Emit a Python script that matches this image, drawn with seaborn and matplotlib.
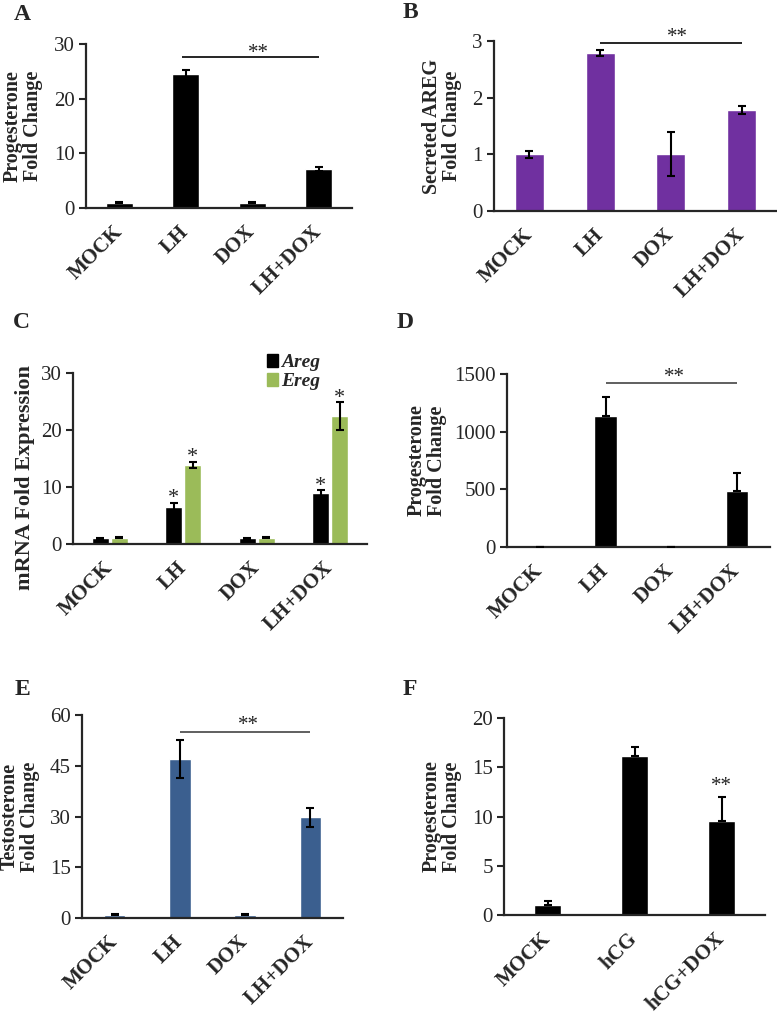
import matplotlib
matplotlib.use("Agg")
import matplotlib.pyplot as plt
import seaborn as sns
import pandas as pd
from matplotlib.patches import Patch

# ---------------- data ----------------
groups = ["MOCK", "LH", "DOX", "LH+DOX"]
a_vals = [1.0, 24.6, 1.0, 7.2]
a_err = [0.12, 0.6, 0.12, 0.35]
b_vals = [1.0, 2.79, 1.0, 1.78]
b_err = [0.06, 0.06, 0.39, 0.07]
c_areg = [1.0, 6.55, 1.0, 8.9]
c_areg_err = [0.1, 0.7, 0.1, 0.6]
c_ereg = [1.1, 13.85, 1.1, 22.4]
c_ereg_err = [0.12, 0.6, 0.1, 2.45]
c_series = ["Areg", "Ereg"]
d_vals = [1.0, 1136, 1.0, 485]
d_err = [0, 162, 0, 154]
e_vals = [1.0, 47.0, 1.0, 29.8]
e_err = [0.1, 5.6, 0.1, 2.8]
f_groups = ["MOCK", "hCG", "hCG+DOX"]
f_vals = [1.0, 16.1, 9.5]
f_err = [0.45, 1.0, 2.5]

PURPLE = "#7030A0"
GREEN = "#9BBB59"
BLUE = "#3B5F8F"

sns.set_style("ticks")
plt.rcParams["font.family"] = ["Liberation Serif", "DejaVu Serif"]
plt.rcParams["axes.linewidth"] = 1.6

W, H = 777, 1014
fig = plt.figure(figsize=(W / 100, H / 100), dpi=100)


def make_ax(l, r, t, b):
    return fig.add_axes([l / W, 1 - b / H, (r - l) / W, (b - t) / H])


def style(ax, n, ymax, yticks, ylabel, lx, ly=0.5, lsize=14.5):
    ax.set_xlim(-0.5, n - 0.5)
    ax.set_ylim(0, ymax)
    ax.set_yticks(yticks)
    ax.spines["top"].set_visible(False)
    ax.spines["right"].set_visible(False)
    ax.tick_params(axis="y", direction="out", length=5, width=1.5, labelsize=15, pad=3)
    ax.tick_params(axis="x", length=0, pad=15)
    for lbl in ax.get_xticklabels():
        lbl.set_rotation(45)
        lbl.set_ha("right")
        lbl.set_va("center")
        lbl.set_rotation_mode("anchor")
        lbl.set_fontweight("bold")
        lbl.set_fontsize(15)
    ax.set_xlabel("")
    ax.set_ylabel(ylabel, fontsize=lsize, fontweight="bold", linespacing=1.0)
    ax.yaxis.set_label_coords(lx, ly)


def add_err(ax, container, vals, err, one_sided=False):
    xs = [p.get_x() + p.get_width() / 2 for p in container]
    if one_sided:
        yerr = [[0] * len(err), err]
    else:
        yerr = err
    ax.errorbar(xs, vals, yerr=yerr, fmt="none", ecolor="black", elinewidth=1.5,
                capsize=3, capthick=1.5, zorder=5)
    return xs


def sig(ax, x0, x1, y, ytext, xtext, color="black"):
    ax.plot([x0, x1], [y, y], color=color, lw=1.2, solid_capstyle="butt")
    ax.text(xtext, ytext, "**", ha="center", va="bottom", fontsize=15, color="#222222")


# ---------------- A ----------------
ax = make_ax(86, 352, 44, 208)
sns.barplot(x=groups, y=a_vals, order=groups, color="black", width=0.41,
            errorbar=None, saturation=1, ax=ax)
add_err(ax, ax.containers[0], a_vals, a_err)
sig(ax, 0.95, 3.0, 27.6, 26.5, 2.1)
style(ax, 4, 30, [0, 10, 20, 30], "Progesterone\nFold Change", -0.162)

# ---------------- B ----------------
ax = make_ax(494, 777, 41, 211)
sns.barplot(x=groups, y=b_vals, order=groups, color=PURPLE, width=0.41,
            errorbar=None, saturation=1, ax=ax)
add_err(ax, ax.containers[0], b_vals, b_err)
sig(ax, 1.0, 3.0, 2.96, 2.9, 2.1)
style(ax, 4, 3, [0, 1, 2, 3], "Secreted AREG\nFold Change", -0.113)

# ---------------- C ----------------
ax = make_ax(73, 367, 373, 544)
df_c = pd.DataFrame({
    "group": groups * 2,
    "series": [c_series[0]] * 4 + [c_series[1]] * 4,
    "value": c_areg + c_ereg,
})
sns.barplot(data=df_c, x="group", y="value", hue="series", order=groups,
            hue_order=c_series, palette=["black", GREEN], width=0.52, gap=0.1,
            errorbar=None, saturation=1, legend=False, ax=ax)
xa = add_err(ax, ax.containers[0], c_areg, c_areg_err)
xe = add_err(ax, ax.containers[1], c_ereg, c_ereg_err)
for i in (1, 3):
    ax.text(xa[i], c_areg[i] + c_areg_err[i] - 1.0, "*", ha="center", va="bottom", fontsize=16)
    ax.text(xe[i], c_ereg[i] + c_ereg_err[i] - 1.0, "*", ha="center", va="bottom", fontsize=16)
ax.legend(handles=[Patch(color="black"), Patch(color=GREEN)], labels=c_series,
          loc="upper left", bbox_to_anchor=(0.66, 1.11), frameon=False,
          prop={"weight": "bold", "style": "italic", "size": 14},
          handlelength=0.55, handleheight=0.6, handletextpad=0.15,
          labelspacing=0.1, borderpad=0, borderaxespad=0)
style(ax, 4, 30, [0, 10, 20, 30], "mRNA Fold Expression", -0.129, 0.39, lsize=16)

# ---------------- D ----------------
ax = make_ax(507, 770, 374, 547)
sns.barplot(x=groups, y=d_vals, order=groups, color="black", width=0.34,
            errorbar=None, saturation=1, ax=ax)
add_err(ax, ax.containers[0], d_vals, d_err, one_sided=True)
sig(ax, 1.0, 3.0, 1422, 1390, 2.05, color="#444444")
style(ax, 4, 1500, [0, 500, 1000, 1500], "Progesterone\nFold Change", -0.228)

# ---------------- E ----------------
ax = make_ax(82, 343, 715, 918)
sns.barplot(x=groups, y=e_vals, order=groups, color=BLUE, width=0.33,
            errorbar=None, saturation=1, ax=ax)
add_err(ax, ax.containers[0], e_vals, e_err)
sig(ax, 1.0, 3.0, 55, 54, 2.05, color="#444444")
style(ax, 4, 60, [0, 15, 30, 45, 60], "Testosterone\nFold Change", -0.161)

# ---------------- F ----------------
ax = make_ax(504, 765, 718, 915)
sns.barplot(x=f_groups, y=f_vals, order=f_groups, color="black", width=0.32,
            errorbar=None, saturation=1, ax=ax)
add_err(ax, ax.containers[0], f_vals, f_err, one_sided=True)
ax.text(2, 12.1, "**", ha="center", va="bottom", fontsize=15, color="#222222")
style(ax, 3, 20, [0, 5, 10, 15, 20], "Progesterone\nFold Change", -0.161)

# ---------------- panel letters ----------------
for letter, x, y in [("A", 14, 20), ("B", 403, 18), ("C", 13, 328),
                     ("D", 397, 328), ("E", 15, 695), ("F", 403, 695)]:
    fig.text(x / W, 1 - y / H, letter, fontsize=17, fontweight="bold",
             ha="left", va="baseline")

fig.savefig("out.png", dpi=100, facecolor="white")
